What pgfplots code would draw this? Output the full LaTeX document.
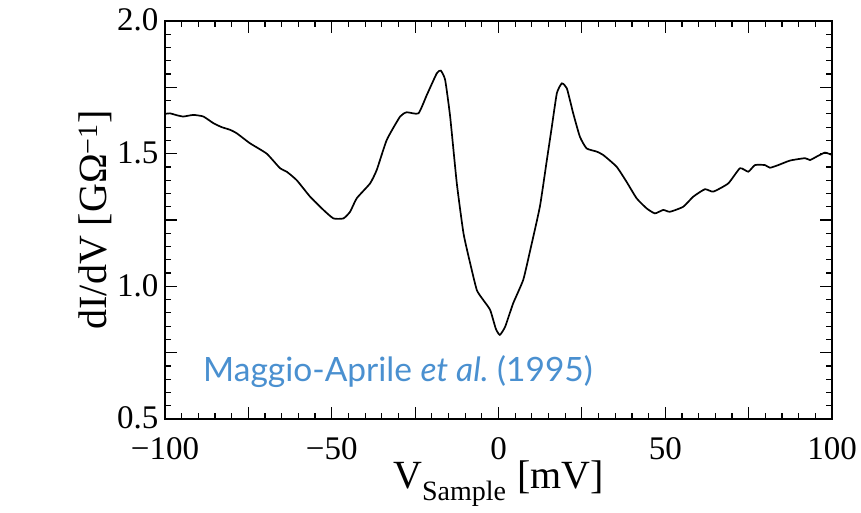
\documentclass[border=0pt]{standalone}
\usepackage{fontspec}
\setmainfont{Liberation Serif}
\newfontfamily\labelfont{Lato}
\usepackage{pgfplots}
\pgfplotsset{compat=1.18}
\definecolor{refblue}{RGB}{74,144,208}
\begin{document}
\begin{tikzpicture}
\begin{axis}[
  scale only axis,
  width=667pt, height=398pt,
  xmin=-100, xmax=100, ymin=0.5, ymax=2.0,
  xtick={-100,-75,...,100},
  xticklabels={\char"2212 100,,\char"2212 50,,0,,50,,100},
  minor x tick num=4,
  ytick={0.5,0.75,...,2.01},
  yticklabels={0.5,,1.0,,1.5,,2.0},
  minor y tick num=4,
  tick align=inside,
  major tick length=12pt,
  minor tick length=6pt,
  tick style={black, line width=1.2pt},
  axis line style={line width=1.4pt},
  /pgf/number format/assume math mode=true,
  ticklabel style={font=\fontsize{33}{37}\selectfont},
  xticklabel style={yshift=-15pt},
  yticklabel style={xshift=-3pt, yshift=1pt},
  xlabel={V\raisebox{-0.3em}{\fontsize{28}{32}\selectfont Sample}\;[mV]},
  ylabel={dI/dV [GΩ\textsuperscript{\char"2212 1}]},
  label style={font=\fontsize{40}{46}\selectfont},
  xlabel style={yshift=6pt},
  ylabel style={yshift=-2pt},
]
\addplot[black, line width=1.7pt, smooth, tension=0.3] coordinates {
(-100,1.650) (-98.5,1.652) (-96.5,1.645) (-94.5,1.640) (-91.5,1.646) (-88.5,1.640)
(-85.5,1.615) (-83,1.600) (-80.5,1.590) (-78.5,1.577) (-74.5,1.539) (-69.5,1.500)
(-65.5,1.445) (-63.5,1.432) (-60.5,1.400) (-56.5,1.338) (-52.5,1.288) (-49.5,1.256)
(-46.5,1.256) (-44.5,1.281) (-42.5,1.332) (-38.5,1.388) (-36.5,1.439) (-33.5,1.552)
(-29.5,1.640) (-27.5,1.656) (-24.0,1.652) (-21.5,1.721) (-18.5,1.803) (-17.3,1.813)
(-16.0,1.778) (-14.5,1.640) (-12.5,1.388) (-10.5,1.200) (-8.5,1.087) (-6.5,0.986)
(-4.6,0.949) (-2.5,0.911) (-0.8,0.840) (0.4,0.817) (2.0,0.848) (4.4,0.936)
(7.4,1.024) (9.4,1.130) (12.4,1.300) (14.5,1.476) (16.0,1.602) (17.5,1.728)
(19.0,1.765) (20.5,1.746) (22.4,1.652) (24.4,1.564) (26.4,1.520) (29.4,1.508)
(31.4,1.495) (35.4,1.451) (38.4,1.394) (41.4,1.332) (44.4,1.294) (46.9,1.275)
(49.4,1.288) (51.4,1.281) (55.4,1.300) (58.4,1.338) (61.9,1.366) (64.4,1.357)
(68.9,1.388) (72.4,1.445) (74.9,1.432) (76.9,1.457) (79.9,1.457) (81.4,1.447)
(83.9,1.457) (87.4,1.474) (91.9,1.483) (93.4,1.476) (95.4,1.489) (97.9,1.504)
(100,1.495)
};
\node[anchor=base west, text=refblue, font=\labelfont\fontsize{33.5}{38}\selectfont, inner sep=0pt]
  at (axis cs:-88.6,0.643) {Maggio-Aprile \textit{et al.}\ (1995)};
\end{axis}
\path (current axis.south west) ++(-165pt,-93pt) rectangle ++(861pt,512pt);
\end{tikzpicture}
\end{document}
